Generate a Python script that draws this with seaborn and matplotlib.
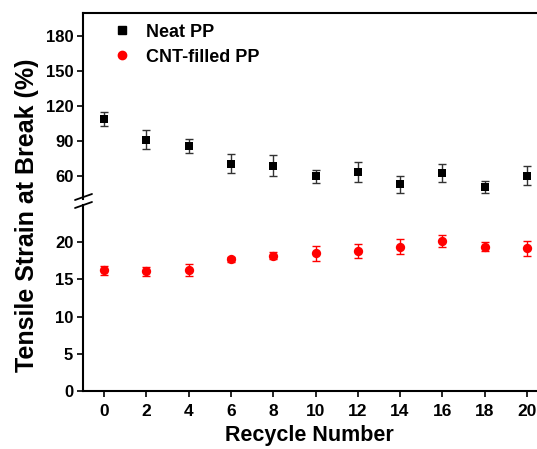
import numpy as np
import pandas as pd
import seaborn as sns
import matplotlib.pyplot as plt
from matplotlib.lines import Line2D

# data
recycle = [0, 2, 4, 6, 8, 10, 12, 14, 16, 18, 20]
neat_pp = [109, 91, 85.5, 70.5, 68.5, 59.5, 63.5, 52.5, 62.5, 50.5, 60]
neat_err = [6, 8, 6, 8, 9, 5.5, 8.5, 7.5, 8, 5, 8]
cnt_pp = [16.2, 16.1, 16.3, 17.7, 18.2, 18.5, 18.8, 19.4, 20.2, 19.4, 19.2]
cnt_err = [0.65, 0.6, 0.8, 0.3, 0.5, 1.0, 0.9, 1.0, 0.8, 0.6, 1.0]

df = pd.DataFrame({"Recycle": recycle, "Neat": neat_pp, "CNT": cnt_pp})

sns.set_style("ticks")
plt.rcParams["font.family"] = ["Liberation Sans", "DejaVu Sans"]
plt.rcParams["font.weight"] = "bold"
plt.rcParams.update({"axes.edgecolor": "black", "text.color": "black",
                     "xtick.color": "black", "ytick.color": "black",
                     "axes.labelcolor": "black"})

fig = plt.figure(figsize=(5.37, 4.49), dpi=100, facecolor="white")
W, H = 537, 449
left, right = 83 / W, 548 / W
ax_top = fig.add_axes([left, 1 - 199 / H, right - left, (199 - 13) / H])
ax_bot = fig.add_axes([left, 1 - 391 / H, right - left, (391 - 205) / H])

# top panel: neat PP
ax_top.errorbar(recycle, neat_pp, yerr=neat_err, fmt="none", ecolor="#333333",
                elinewidth=1, capsize=3, capthick=1, zorder=2)
sns.scatterplot(data=df, x="Recycle", y="Neat", ax=ax_top, marker="s", s=40,
                color="black", edgecolor="black", linewidth=0, zorder=3)

# bottom panel: CNT-filled PP
ax_bot.errorbar(recycle, cnt_pp, yerr=cnt_err, fmt="none", ecolor="red",
                elinewidth=1, capsize=3, capthick=1, zorder=2)
sns.scatterplot(data=df, x="Recycle", y="CNT", ax=ax_bot, marker="o", s=45,
                color="red", edgecolor="red", linewidth=0, zorder=3)

for ax in (ax_top, ax_bot):
    ax.set_xlim(-1, 21)
    ax.set_xlabel("")
    ax.set_ylabel("")
    ax.spines["right"].set_visible(False)
    ax.spines["left"].set_linewidth(1.5)
    ax.tick_params(axis="y", direction="out", length=4, width=1.2,
                   labelsize=12, pad=3)

ax_top.set_ylim(40, 200)
ax_top.set_yticks([60, 90, 120, 150, 180])
ax_top.spines["bottom"].set_visible(False)
ax_top.spines["top"].set_linewidth(1.5)
ax_top.tick_params(axis="x", bottom=False, labelbottom=False)

ax_bot.set_ylim(0, 25)
ax_bot.set_yticks([0, 5, 10, 15, 20])
ax_bot.spines["top"].set_visible(False)
ax_bot.spines["bottom"].set_linewidth(1.5)
ax_bot.set_xticks(recycle)
ax_bot.tick_params(axis="x", direction="out", length=4, width=1.2,
                   labelsize=12.5, pad=5)
for ax in (ax_top, ax_bot):
    for t in ax.get_yticklabels() + ax.get_xticklabels():
        t.set_fontweight("bold")

# axis break marks
for yb in (197, 205):
    fig.add_artist(Line2D([75 / W, 92 / W], [1 - (yb + 3) / H, 1 - (yb - 3) / H],
                          color="black", lw=1.3))

fig.text(309 / W, 1 - 436 / H, "Recycle Number", ha="center", va="center",
         fontsize=15.5, fontweight="bold")
fig.text(27 / W, 1 - 215 / H, "Tensile Strain at Break (%)", ha="center",
         va="center", rotation=90, fontsize=18, fontweight="bold")

handles = [
    Line2D([], [], marker="s", color="black", ls="none", markersize=6),
    Line2D([], [], marker="o", color="red", ls="none", markersize=6),
]
ax_top.legend(handles, ["Neat PP", "CNT-filled PP"], loc="upper left",
              bbox_to_anchor=(0.025, 1.03), frameon=False,
              prop={"weight": "bold", "size": 13}, handlelength=1.2,
              handletextpad=0.75, labelspacing=0.45)

fig.savefig("out.png", dpi=100, facecolor="white")
